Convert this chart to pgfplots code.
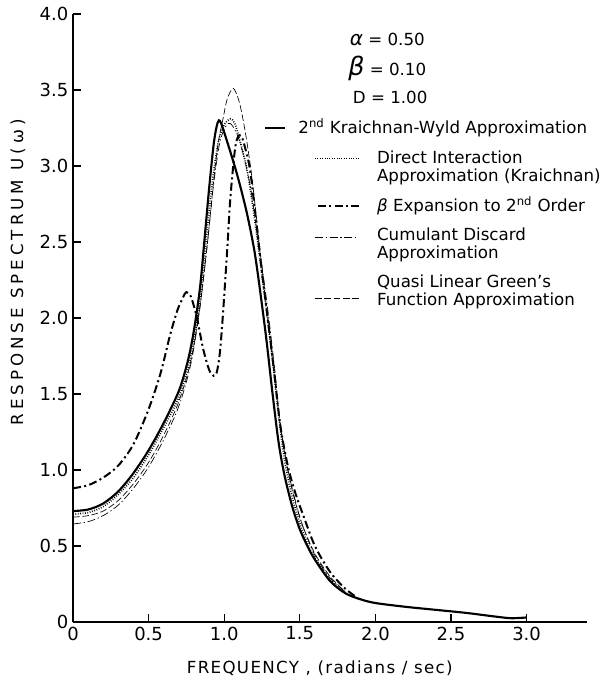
\documentclass[border=0pt]{standalone}
\usepackage{fontspec}
\setmainfont{DejaVu Sans}
\newfontfamily\spacedx[LetterSpace=8]{DejaVu Sans}
\newfontfamily\spacedy[LetterSpace=24]{DejaVu Sans}
\usepackage{pgfplots}
\pgfplotsset{compat=1.18}

\pgfplotstableread{
x y
0 0.73
0.1 0.74
0.2 0.78
0.3 0.86
0.4 0.98
0.5 1.13
0.6 1.31
0.7 1.52
0.76 1.72
0.80 1.92
0.84 2.20
0.87 2.52
0.90 2.85
0.93 3.14
0.95 3.26
0.965 3.30
0.98 3.28
1.01 3.19
1.06 3.03
1.10 2.89
1.15 2.69
1.20 2.44
1.24 2.16
1.28 1.85
1.32 1.50
1.36 1.18
1.40 0.96
1.45 0.76
1.50 0.61
1.55 0.50
1.60 0.41
1.70 0.27
1.80 0.19
1.90 0.15
2.00 0.125
2.20 0.10
2.40 0.08
2.60 0.06
2.80 0.035
2.90 0.025
3.00 0.03
}\kw

\pgfplotstableread{
x y
0 0.71
0.1 0.72
0.2 0.76
0.3 0.84
0.4 0.95
0.5 1.10
0.6 1.28
0.7 1.48
0.78 1.75
0.84 2.12
0.88 2.50
0.92 2.88
0.96 3.15
1.00 3.27
1.04 3.31
1.07 3.28
1.10 3.18
1.15 2.98
1.20 2.66
1.25 2.28
1.28 2.05
1.32 1.72
1.36 1.36
1.40 1.06
1.45 0.82
1.50 0.65
1.55 0.52
1.60 0.42
1.70 0.28
1.80 0.19
1.90 0.15
}\dia

\pgfplotstableread{
x y
0 0.88
0.1 0.90
0.2 0.95
0.3 1.03
0.4 1.17
0.5 1.40
0.58 1.64
0.64 1.88
0.69 2.05
0.73 2.14
0.75 2.17
0.78 2.14
0.82 2.00
0.86 1.80
0.90 1.66
0.93 1.62
0.95 1.64
0.97 1.76
0.99 2.00
1.02 2.45
1.04 2.78
1.07 3.10
1.09 3.19
1.11 3.20
1.13 3.15
1.17 2.98
1.21 2.65
1.25 2.30
1.29 1.98
1.33 1.65
1.37 1.30
1.42 1.03
1.47 0.85
1.52 0.71
1.60 0.50
1.70 0.33
1.80 0.22
1.88 0.16
}\bexp

\pgfplotstableread{
x y
0 0.645
0.1 0.66
0.2 0.70
0.3 0.77
0.4 0.88
0.5 1.02
0.6 1.20
0.7 1.42
0.78 1.70
0.84 2.07
0.89 2.50
0.93 2.88
0.97 3.15
1.01 3.26
1.04 3.28
1.08 3.22
1.12 3.10
1.17 2.88
1.22 2.55
1.28 2.12
1.33 1.70
1.37 1.32
1.42 1.01
1.47 0.80
1.52 0.63
1.60 0.44
1.70 0.29
1.80 0.20
}\cum

\pgfplotstableread{
x y
0 0.69
0.1 0.70
0.2 0.73
0.3 0.80
0.4 0.91
0.5 1.05
0.6 1.23
0.7 1.45
0.78 1.72
0.84 2.08
0.89 2.50
0.93 2.90
0.96 3.15
0.99 3.30
1.02 3.44
1.06 3.51
1.10 3.42
1.14 3.22
1.18 2.95
1.22 2.60
1.27 2.15
1.32 1.72
1.37 1.30
1.42 1.00
1.47 0.79
1.52 0.63
1.60 0.45
1.70 0.30
1.80 0.20
}\qlg

\tikzset{
 kwst/.style={black, line width=1.6pt},
 diast/.style={black, line width=1.3pt, dash pattern=on 0.6pt off 1.2pt},
 bexst/.style={black, line width=1.5pt, dash pattern=on 6pt off 2.5pt on 1.5pt off 2.5pt},
 cumst/.style={black, line width=0.5pt, dash pattern=on 6pt off 2pt on 1pt off 2pt},
 qlgst/.style={black, line width=0.5pt, dash pattern=on 5pt off 2pt},
}

\begin{document}
\begin{tikzpicture}
\begin{axis}[
 scale only axis, width=385.5pt, height=456pt,
 xmin=0, xmax=3.4, ymin=0, ymax=4,
 axis x line=bottom, axis y line=left,
 axis line style={-, line width=0.9pt},
 xtick={0,0.5,1.0,1.5,2.0,2.5,3.0},
 xticklabels={0,0.5,1.0,1.5,2.0,2.5,3.0},
 ytick={0,0.5,1.0,1.5,2.0,2.5,3.0,3.5,4.0},
 yticklabels={0,0.5,1.0,1.5,2.0,2.5,3.0,3.5,4.0},
 tick align=inside, major tick length=6pt,
 tick style={line width=0.9pt, black},
 ticklabel style={font=\fontsize{13.5}{15}\selectfont},
 /pgf/number format/assume math mode=true,
 xlabel={\spacedx FREQUENCY , (radians / sec)},
 ylabel={\spacedy RESPONSE SPECTRUM U(ω)},
 label style={font=\fontsize{12.5}{14}\selectfont},
 xlabel style={at={(axis description cs:0.48,-0.076)}, anchor=center},
 ylabel style={at={(axis description cs:-0.107,0.575)}, anchor=center},
 clip=false,
]
\addplot[kwst, smooth, tension=0.5] table {\kw};
\addplot[diast, smooth, tension=0.5] table {\dia};
\addplot[bexst, smooth, tension=0.5] table {\bexp};
\addplot[cumst, smooth, tension=0.5] table {\cum};
\addplot[qlgst, smooth, tension=0.5] table {\qlg};

\coordinate (bl) at (axis cs:-0.483,-0.388);
\coordinate (tr) at (axis cs:3.512,4.092);

\begin{scope}[font=\fontsize{12.5}{13.5}\selectfont]
\node[anchor=west] at (axis cs:1.80,3.835) {{\fontsize{15}{15}\selectfont\itshape α} = 0.50};
\node[anchor=west] at (axis cs:1.79,3.645) {{\fontsize{19}{19}\selectfont\itshape β} = 0.10};
\node[anchor=west] at (axis cs:1.82,3.454) {D = 1.00};

\draw[kwst] (axis cs:1.27,3.25) -- (axis cs:1.40,3.25);
\node[anchor=west] at (axis cs:1.46,3.25) {2\textsuperscript{nd} Kraichnan-Wyld Approximation};

\draw[diast] (axis cs:1.60,3.05) -- (axis cs:1.89,3.05);
\node[anchor=west, align=left] at (axis cs:1.98,2.99) {Direct Interaction\\Approximation (Kraichnan)};

\draw[bexst] (axis cs:1.62,2.74) -- (axis cs:1.89,2.74);
\node[anchor=west] at (axis cs:1.98,2.74) {{\itshape β} Expansion to 2\textsuperscript{nd} Order};

\draw[cumst] (axis cs:1.60,2.53) -- (axis cs:1.89,2.53);
\node[anchor=west, align=left] at (axis cs:1.98,2.48) {Cumulant Discard\\Approximation};

\draw[qlgst] (axis cs:1.60,2.13) -- (axis cs:1.89,2.13);
\node[anchor=west, align=left] at (axis cs:1.98,2.17) {Quasi Linear Green's\\Function Approximation};
\end{scope}
\end{axis}
\pgfresetboundingbox
\path[use as bounding box] (bl) rectangle (tr);
\end{tikzpicture}
\end{document}
